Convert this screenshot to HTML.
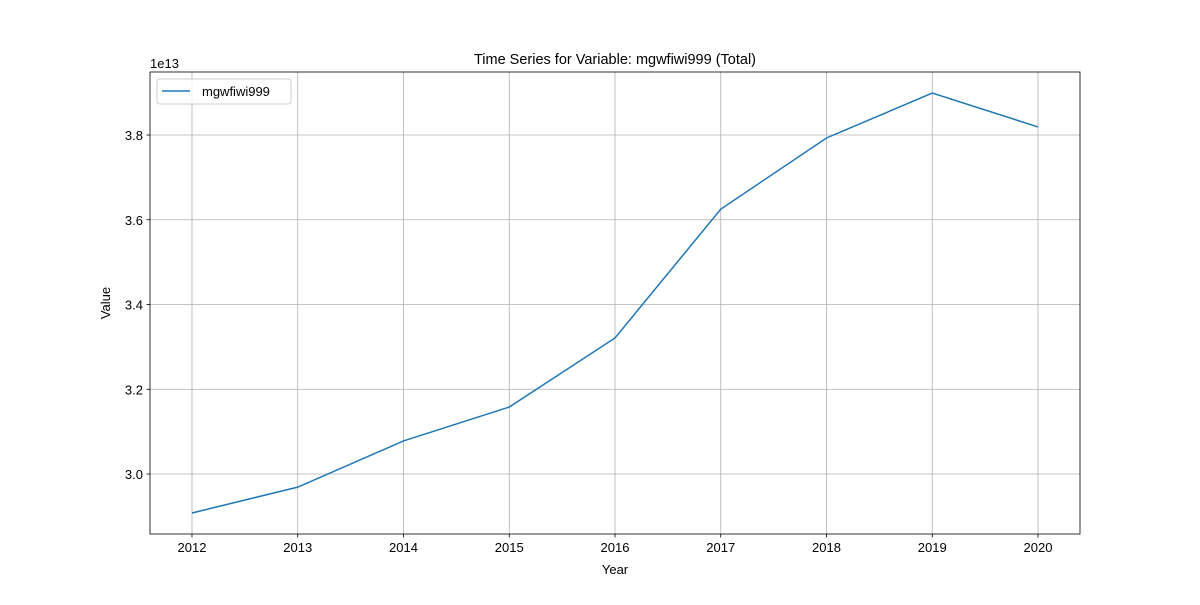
<!DOCTYPE html>
<html><head><meta charset="utf-8"><style>
body{margin:0;background:#fff;}
svg text{font-family:"Liberation Sans","DejaVu Sans",sans-serif;fill:#000;}
</style></head><body>
<svg id="chart" width="1200" height="600" xmlns="http://www.w3.org/2000/svg">
<rect width="1200" height="600" fill="#fff"/>
<g id="grid"></g>
<g id="ticks"></g>
<path id="line" fill="none" stroke="#1f77b4" stroke-width="1.5"/>
<rect x="150" y="72" width="930" height="462" fill="none" stroke="#000" stroke-width="0.8"/>
<text x="615" y="64" text-anchor="middle" font-size="14.5">Time Series for Variable: mgwfiwi999 (Total)</text>
<text x="615" y="574" text-anchor="middle" font-size="13">Year</text>
<text x="110" y="303" text-anchor="middle" font-size="13" transform="rotate(-90 110 303)">Value</text>
<text x="150" y="68" font-size="13">1e13</text>
<g>
<rect x="157" y="79" width="134" height="25" rx="3" fill="#fff" stroke="#ccc" stroke-width="1" fill-opacity="0.8"/>
<line x1="162" y1="91" x2="190" y2="91" stroke="#1f77b4" stroke-width="1.5"/>
<text x="202" y="96" font-size="13">mgwfiwi999</text>
</g>
</svg>
<script>
const years=[2012,2013,2014,2015,2016,2017,2018,2019,2020];
const values=[2.908,2.969,3.078,3.158,3.321,3.625,3.793,3.899,3.819];
const yTicks=[3.0,3.2,3.4,3.6,3.8];
const yTickLabels=["3.0","3.2","3.4","3.6","3.8"];
const L=150,R=1080,T=72,B=534;
const x0=2011.603,x1=2020.397,y0=2.8584,y1=3.9487;
const sx=v=>L+(v-x0)/(x1-x0)*(R-L);
const sy=v=>B-(v-y0)/(y1-y0)*(B-T);
const NS="http://www.w3.org/2000/svg";
const grid=document.getElementById('grid'),ticks=document.getElementById('ticks');
function mk(tag,attrs,parent){const e=document.createElementNS(NS,tag);for(const k in attrs)e.setAttribute(k,attrs[k]);parent.appendChild(e);return e;}
years.forEach(y=>{const x=sx(y);
const g=mk('line',{x1:x,x2:x,y1:T,y2:B,stroke:'#b0b0b0','stroke-width':0.8},grid);


const t=mk('line',{x1:x,x2:x,y1:B,y2:B+3.5,stroke:'#000','stroke-width':0.8},ticks);


const l=mk('text',{x:x,y:B+18,'text-anchor':'middle','font-size':13},ticks);l.textContent=y;


});
yTicks.forEach((v,i)=>{const y=sy(v);
const g=mk('line',{x1:L,x2:R,y1:y,y2:y,stroke:'#b0b0b0','stroke-width':0.8},grid);


const t=mk('line',{x1:L-3.5,x2:L,y1:y,y2:y,stroke:'#000','stroke-width':0.8},ticks);


const l=mk('text',{x:L-7,y:y+5,'text-anchor':'end','font-size':13},ticks);l.textContent=yTickLabels[i];


});
document.getElementById('line').setAttribute('d',years.map((y,i)=>(i?'L':'M')+sx(y)+' '+sy(values[i])).join(' '));
</script>
</body></html>
